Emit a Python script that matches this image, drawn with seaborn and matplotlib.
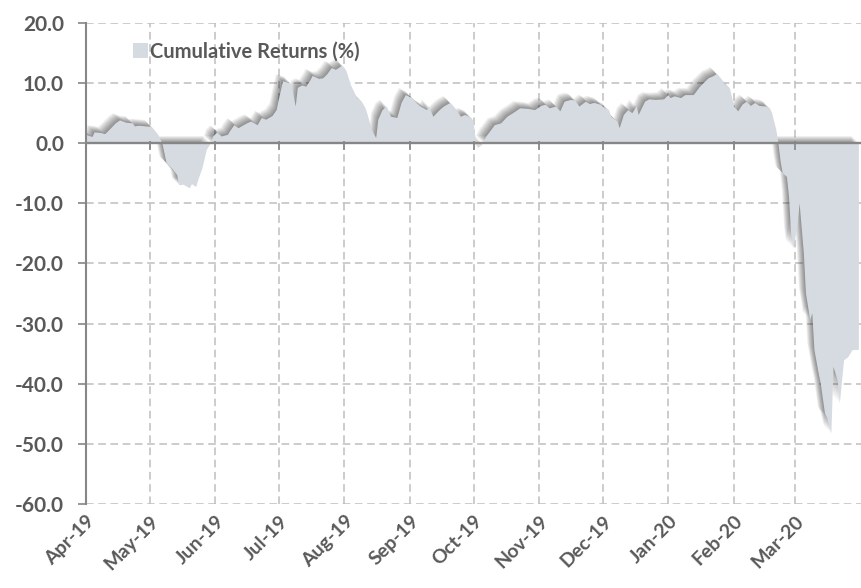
import pandas as pd
import numpy as np
import matplotlib
matplotlib.use("Agg")
import matplotlib.pyplot as plt
import matplotlib.dates as mdates
import matplotlib.patheffects as pe
from matplotlib.patches import Patch
import seaborn as sns

# === DATA ===
dates = [
    "2019-04-01", "2019-04-04", "2019-04-05", "2019-04-08", "2019-04-10", "2019-04-12",
    "2019-04-15", "2019-04-17", "2019-04-20", "2019-04-23", "2019-04-24", "2019-04-26",
    "2019-04-29", "2019-05-02", "2019-05-05", "2019-05-07", "2019-05-09", "2019-05-12",
    "2019-05-14", "2019-05-15", "2019-05-17", "2019-05-20", "2019-05-21", "2019-05-23",
    "2019-05-24", "2019-05-26", "2019-05-28", "2019-05-30", "2019-05-31", "2019-06-02",
    "2019-06-04", "2019-06-07", "2019-06-08", "2019-06-10", "2019-06-12", "2019-06-14",
    "2019-06-16", "2019-06-18", "2019-06-21", "2019-06-23", "2019-06-25", "2019-06-28",
    "2019-06-30", "2019-07-01", "2019-07-03", "2019-07-06", "2019-07-07", "2019-07-09",
    "2019-07-10", "2019-07-12", "2019-07-14", "2019-07-16", "2019-07-17", "2019-07-20",
    "2019-07-22", "2019-07-24", "2019-07-26", "2019-07-28", "2019-07-31", "2019-08-02",
    "2019-08-04", "2019-08-07", "2019-08-09", "2019-08-11", "2019-08-12", "2019-08-14",
    "2019-08-16", "2019-08-17", "2019-08-19", "2019-08-21", "2019-08-22", "2019-08-23",
    "2019-08-26", "2019-08-28", "2019-08-30", "2019-09-02", "2019-09-04", "2019-09-06",
    "2019-09-09", "2019-09-10", "2019-09-12", "2019-09-15", "2019-09-17", "2019-09-20",
    "2019-09-23", "2019-09-25", "2019-09-27", "2019-09-30", "2019-10-01", "2019-10-02",
    "2019-10-03", "2019-10-05", "2019-10-07", "2019-10-10", "2019-10-11", "2019-10-14",
    "2019-10-17", "2019-10-21", "2019-10-23", "2019-10-27", "2019-10-30", "2019-11-02",
    "2019-11-04", "2019-11-06", "2019-11-09", "2019-11-11", "2019-11-13", "2019-11-16",
    "2019-11-18", "2019-11-20", "2019-11-23", "2019-11-25", "2019-11-27", "2019-11-30",
    "2019-12-02", "2019-12-04", "2019-12-05", "2019-12-08", "2019-12-09", "2019-12-11",
    "2019-12-13", "2019-12-15", "2019-12-17", "2019-12-18", "2019-12-21", "2019-12-23",
    "2019-12-26", "2019-12-30", "2020-01-01", "2020-01-02", "2020-01-04", "2020-01-07",
    "2020-01-09", "2020-01-13", "2020-01-16", "2020-01-20", "2020-01-22", "2020-01-24",
    "2020-01-26", "2020-01-28", "2020-01-30", "2020-01-31", "2020-02-01", "2020-02-03",
    "2020-02-05", "2020-02-07", "2020-02-09", "2020-02-11", "2020-02-13", "2020-02-16",
    "2020-02-18", "2020-02-19", "2020-02-21", "2020-02-22", "2020-02-23", "2020-02-24",
    "2020-02-26", "2020-02-27", "2020-02-28", "2020-02-29", "2020-03-02", "2020-03-03",
    "2020-03-05", "2020-03-06", "2020-03-08", "2020-03-09", "2020-03-10", "2020-03-12",
    "2020-03-13", "2020-03-15", "2020-03-16", "2020-03-18", "2020-03-19", "2020-03-21",
    "2020-03-22", "2020-03-24", "2020-03-26", "2020-03-28", "2020-03-31",
]
returns = [
    1.4, 1.0, 1.8, 1.7, 1.5, 2.2,
    3.3, 3.8, 3.4, 3.3, 2.8, 2.9,
    2.8, 2.7, 1.4, 0.0, -3.3, -4.4,
    -5.3, -7.0, -6.9, -7.5, -6.8, -7.3,
    -6.1, -4.1, -1.1, 0.0, 1.1, 1.8,
    1.1, 1.4, 2.0, 3.0, 2.5, 2.9,
    3.3, 3.6, 3.0, 4.2, 3.9, 4.5,
    5.5, 7.2, 10.3, 10.0, 9.8, 6.1,
    9.2, 9.6, 9.4, 10.5, 11.2, 10.7,
    10.8, 11.5, 12.5, 12.2, 12.9, 12.0,
    9.7, 7.5, 7.0, 5.8, 4.7, 2.2,
    0.8, 3.9, 5.5, 6.1, 5.3, 4.4,
    4.2, 6.7, 8.0, 7.5, 6.7, 6.1,
    5.5, 6.1, 4.4, 5.5, 6.1, 6.7,
    5.5, 4.4, 4.7, 4.2, 3.6, 0.6,
    -0.8, -0.3, 1.1, 2.5, 3.0, 3.3,
    4.4, 5.3, 5.8, 5.7, 5.5, 6.2,
    6.4, 5.8, 6.1, 5.3, 6.9, 7.2,
    7.1, 6.1, 6.9, 6.5, 6.7, 6.4,
    5.8, 5.5, 4.4, 3.6, 2.5, 4.7,
    5.5, 5.0, 6.1, 4.7, 6.9, 7.3,
    7.2, 7.3, 8.0, 7.5, 7.8, 7.5,
    8.0, 8.0, 9.4, 10.8, 11.1, 11.5,
    10.7, 9.7, 9.2, 7.8, 6.1, 5.3,
    6.4, 6.9, 6.2, 6.7, 6.2, 6.1,
    5.8, 5.0, 2.2, 0.0, -3.0, -5.0,
    -5.6, -8.9, -15.0, -17.5, -13.9, -10.0,
    -18.3, -25.0, -29.4, -28.3, -34.4, -38.3,
    -40.0, -45.0, -45.6, -48.3, -37.2, -39.5,
    -43.3, -36.1, -35.6, -34.4, -34.4,
]
y_ticks = [-60, -50, -40, -30, -20, -10, 0, 10, 20]
month_ticks = pd.date_range("2019-04-01", "2020-03-01", freq="MS")
series_label = "Cumulative Returns (%)"

df = pd.DataFrame({"date": pd.to_datetime(dates), "ret": returns})

# === STYLE ===
sns.set_theme(style="white")
plt.rcParams["font.family"] = ["Lato", "DejaVu Sans"]
plt.rcParams["font.weight"] = "bold"

FILL = "#D6DBE2"
TEXT = "#595959"
AXIS = "#868686"
GRID = "#BFBFBF"

fig = plt.figure(figsize=(8.61, 5.88), dpi=100)
ax = fig.add_axes([0.1, 0.143, 0.9, 0.818])

# invisible line just to let seaborn set up the date axis
sns.lineplot(data=df, x="date", y="ret", ax=ax, linewidth=0, legend=False)

# area with soft up-left shadow (stacked translucent copies ~ blur)
shadow = [pe.SimplePatchShadow(offset=(-k, k), shadow_rgbFace="black", alpha=0.045)
          for k in np.linspace(0.4, 5.2, 12)]
area = ax.fill_between(df["date"], df["ret"], 0, color=FILL, linewidth=0, zorder=2)
area.set_path_effects(shadow + [pe.Normal()])

# zero line with small month ticks
ax.axhline(0, color=AXIS, lw=1.7, zorder=3)
ax.vlines(month_ticks, -1.2, 0.4, color=AXIS, lw=1.2, zorder=3)

ax.set_xlim(pd.Timestamp("2019-04-01"), pd.Timestamp("2020-04-01"))
ax.set_ylim(-60, 20)
ax.set_yticks(y_ticks)
ax.set_yticklabels([f"{v:.1f}" for v in y_ticks])
ax.set_xticks(month_ticks)
ax.xaxis.set_major_formatter(mdates.DateFormatter("%b-%y"))

ax.set_axisbelow(True)
ax.grid(True, color=GRID, linestyle=(0, (5, 3)), linewidth=1.1)

for s in ["top", "right", "bottom"]:
    ax.spines[s].set_visible(False)
ax.spines["left"].set_color(AXIS)
ax.spines["left"].set_linewidth(1.5)
ax.spines["left"].set_zorder(3)

ax.tick_params(axis="y", left=True, length=6, width=1.2, color=AXIS, pad=10,
               labelsize=15, labelcolor=TEXT)
ax.tick_params(axis="x", bottom=True, length=0, pad=6, labelsize=14, labelcolor=TEXT)
plt.setp(ax.get_xticklabels(), rotation=45, ha="right", va="top", rotation_mode="anchor")

ax.set_xlabel("")
ax.set_ylabel("")

ax.legend(handles=[Patch(facecolor=FILL, edgecolor="none", label=series_label)],
          loc="upper left", bbox_to_anchor=(0.061, 0.962), frameon=False,
          borderpad=0, borderaxespad=0, handlelength=0.75, handleheight=0.75,
          handletextpad=0.1, prop={"size": 14.5, "weight": "bold"}, labelcolor=TEXT)

fig.savefig("out.png", dpi=100)
plt.close(fig)
